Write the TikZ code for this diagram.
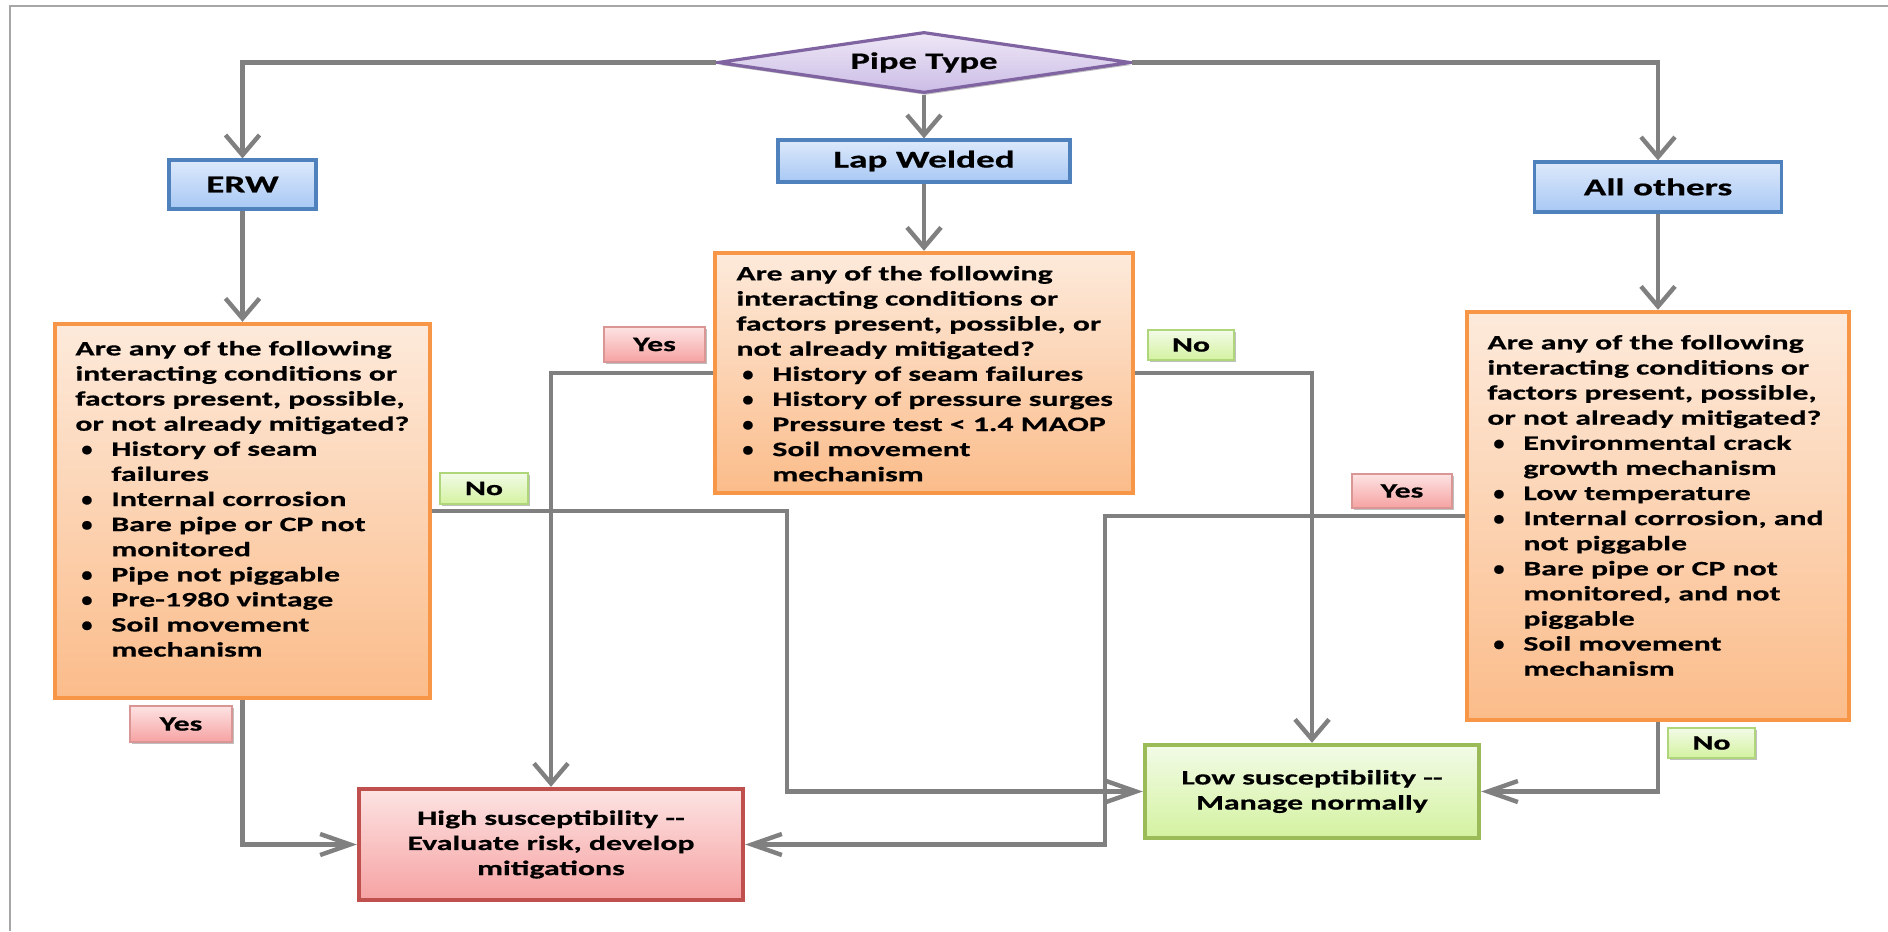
\documentclass[tikz,border=0pt]{standalone}
\usepackage{fontspec}
\setmainfont{Carlito}[FakeStretch=1.55,BoldFeatures={FakeStretch=1.55,FakeBold=0.6}]
\usetikzlibrary{arrows.meta,shapes.geometric,shadows}
\definecolor{lineg}{HTML}{808080}
\definecolor{frameg}{HTML}{A6A6A6}
\definecolor{bluetop}{HTML}{DDE9FB}
\definecolor{bluebot}{HTML}{A8C8F4}
\definecolor{blueline}{HTML}{4F81BD}
\definecolor{orgtop}{HTML}{FDEADB}
\definecolor{orgbot}{HTML}{FBBC8A}
\definecolor{orgline}{HTML}{F79646}
\definecolor{purtop}{HTML}{EEE8F6}
\definecolor{purbot}{HTML}{CBBCE6}
\definecolor{purline}{HTML}{8064A2}
\definecolor{redtop}{HTML}{FDE3E3}
\definecolor{redbot}{HTML}{F6A2A2}
\definecolor{redline}{HTML}{C0504D}
\definecolor{grntop}{HTML}{F2FBE7}
\definecolor{grnbot}{HTML}{D4F2A0}
\definecolor{grnline}{HTML}{9BBB59}
\definecolor{yesline}{HTML}{D99694}
\definecolor{noline}{HTML}{AFD67A}
\newcommand\bulitem[1]{\makebox[18pt][l]{\hspace{3pt}\scalebox{0.7}[1]{\textbullet}}#1}
\newcommand\contline[1]{\hspace*{18pt}#1}
\begin{document}
\begin{tikzpicture}[x=0.5pt,y=-0.5pt,
  bodyfont/.style={font=\bfseries\fontsize{10.25}{12.55}\selectfont},
  titlefont/.style={font=\bfseries\fontsize{12}{14}\selectfont},
  shad/.style={drop shadow={shadow xshift=0.8pt,shadow yshift=-1.2pt,opacity=0.25,fill=black}},
  typebox/.style={shad,draw=blueline,line width=1.6pt,top color=bluetop,bottom color=bluebot,titlefont,inner sep=0pt},
  qbox/.style={shad,draw=orgline,line width=2.2pt,top color=orgtop,bottom color=orgbot,inner sep=0pt},
  qtext/.style={bodyfont,align=left,anchor=north west,inner sep=0pt},
  highbox/.style={shad,draw=redline,line width=2.2pt,top color=redtop,bottom color=redbot,bodyfont,align=center,inner sep=0pt},
  lowbox/.style={shad,draw=grnline,line width=2.2pt,top color=grntop,bottom color=grnbot,bodyfont,align=center,inner sep=0pt},
  yeslab/.style={shad,draw=yesline,line width=0.7pt,top color=redtop,bottom color=redbot,bodyfont,inner sep=0pt},
  nolab/.style={shad,draw=noline,line width=0.7pt,top color=grntop,bottom color=grnbot,bodyfont,inner sep=0pt},
  conn/.style={draw=lineg,line width=2.2pt},
  varr/.style={conn,-{Straight Barb[length=10pt,width=17pt]}},
  harr/.style={conn,-{Straight Barb[length=15pt,width=10.5pt]}}]
\useasboundingbox (0,0) rectangle (1888,931);
\fill[white] (0,0) rectangle (1888,931);
\draw[frameg,line width=1.3pt] (10,931) -- (10,6) -- (1888,6);

% decision and type boxes
\node[diamond,aspect=6.8,minimum width=206.5pt,minimum height=30.5pt,draw=purline,line width=1.6pt,
      top color=purtop,bottom color=purbot,font=\bfseries\fontsize{11.8}{13}\selectfont,inner sep=0pt,shad]
      (pipe) at (924,62.5) {Pipe Type};
\node[typebox,minimum width=73.5pt,minimum height=24.5pt] (erw) at (242.5,184.5) {ERW};
\node[typebox,minimum width=146pt,minimum height=21pt] (lap) at (924,161) {Lap Welded};
\node[typebox,minimum width=123.5pt,minimum height=25pt] (oth) at (1658,187) {All others};

% question boxes
\node[qbox,minimum width=187.5pt,minimum height=187pt] (qL) at (242.5,511) {};
\node[qbox,minimum width=209pt,minimum height=120pt] (qM) at (924,373) {};
\node[qbox,minimum width=191pt,minimum height=204pt] (qR) at (1658,516) {};

\node[qtext] (tL) at (75,337) {\rule{0pt}{9pt}Are any of the following\\
interacting conditions or\\
factors present, possible,\\
or not already mitigated?\\
\bulitem{History of seam}\\
\contline{failures}\\
\bulitem{Internal corrosion}\\
\bulitem{Bare pipe or CP not}\\
\contline{monitored}\\
\bulitem{Pipe not piggable}\\
\bulitem{Pre-1980 vintage}\\
\bulitem{Soil movement}\\
\contline{mechanism}};

\node[qtext] (tM) at (736,262) {\rule{0pt}{9pt}Are any of the following\\
interacting conditions or\\
factors present, possible, or\\
not already mitigated?\\
\bulitem{History of seam failures}\\
\bulitem{History of pressure surges}\\
\bulitem{Pressure test < 1.4 MAOP}\\
\bulitem{Soil movement}\\
\contline{mechanism}};

\node[qtext] (tR) at (1487,331) {\rule{0pt}{9pt}Are any of the following\\
interacting conditions or\\
factors present, possible,\\
or not already mitigated?\\
\bulitem{Environmental crack}\\
\contline{growth mechanism}\\
\bulitem{Low temperature}\\
\bulitem{Internal corrosion, and}\\
\contline{not piggable}\\
\bulitem{Bare pipe or CP not}\\
\contline{monitored, and not}\\
\contline{piggable}\\
\bulitem{Soil movement}\\
\contline{mechanism}};

% outcome boxes
\node[highbox,minimum width=192pt,minimum height=55.5pt] (high) at (551,844.5)
  {High susceptibility -{}-\\Evaluate risk, develop\\mitigations};
\node[lowbox,minimum width=167pt,minimum height=46.5pt] (low) at (1312,791.5)
  {Low susceptibility -{}-\\Manage normally};

% connectors
\coordinate (c1) at (787,511);
\coordinate (c2) at (1105,516);
\draw[varr] (pipe.west) -| (erw.north);
\draw[varr] (pipe.south) -- (lap.north);
\draw[varr] (pipe.east) -| (oth.north);
\draw[varr] (erw.south) -- (qL.north);
\draw[varr] (lap.south) -- (qM.north);
\draw[varr] (oth.south) -- (qR.north);
\draw[varr] (qM.west) -| (high.north);
\draw[varr] (qM.east) -| (low.north);
\draw[harr] (qL.east) -| (c1 |- low.west) -- (low.west);
\draw[harr] (qL.south) |- (high.west);
\draw[harr] (qR.west) -| (c2 |- high.east) -- (high.east);
\draw[harr] (qR.south) |- (low.east);

% yes / no labels
\node[yeslab,minimum width=50.5pt,minimum height=17.5pt] (yes1) at (654.5,344.5) {Yes};
\node[nolab,minimum width=43pt,minimum height=15pt] (no1) at (1191,345) {No};
\node[nolab,minimum width=44pt,minimum height=15.5pt] (no2) at (484,488.5) {No};
\node[yeslab,minimum width=51pt,minimum height=18pt] (yes2) at (181,724) {Yes};
\node[yeslab,minimum width=50pt,minimum height=17pt] (yes3) at (1402,491) {Yes};
\node[nolab,minimum width=43.5pt,minimum height=15pt] (no3) at (1711.5,743) {No};
\end{tikzpicture}
\end{document}
